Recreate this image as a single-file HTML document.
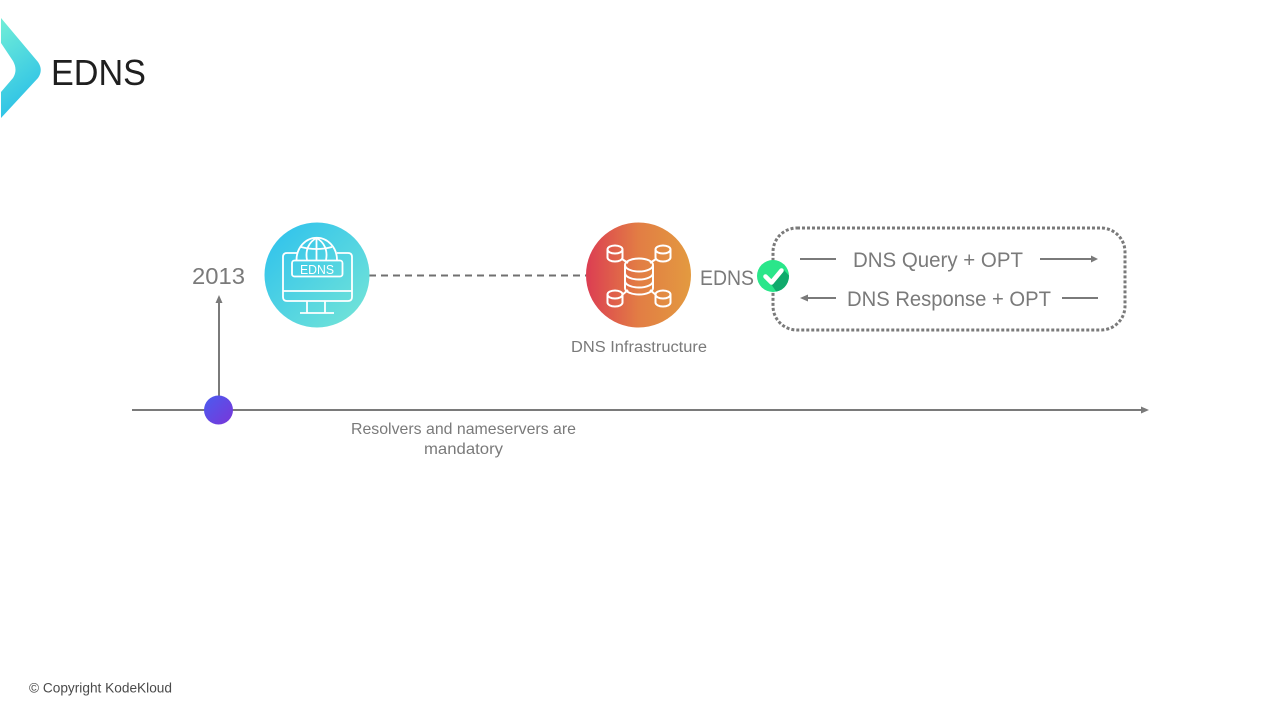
<!DOCTYPE html>
<html><head><meta charset="utf-8"><title>EDNS</title>
<style>html,body{margin:0;padding:0;background:#fff;width:1280px;height:720px;overflow:hidden}svg{display:block}
text{font-family:"Liberation Sans",sans-serif}</style></head>
<body>
<svg width="1280" height="720" viewBox="0 0 1280 720" xmlns="http://www.w3.org/2000/svg">
<defs>
<linearGradient id="lg" x1="0.2" y1="0" x2="0.5" y2="1"><stop offset="0" stop-color="#6eecd8"/><stop offset="1" stop-color="#28bee8"/></linearGradient>
<linearGradient id="blue" x1="0" y1="0" x2="1" y2="1"><stop offset="0" stop-color="#2bc0ee"/><stop offset="1" stop-color="#77e6d6"/></linearGradient>
<linearGradient id="org" x1="0" y1="0" x2="1" y2="0"><stop offset="0" stop-color="#dc3d52"/><stop offset="0.5" stop-color="#e27d44"/><stop offset="1" stop-color="#e39a40"/></linearGradient>
<linearGradient id="pur" x1="0" y1="0" x2="1" y2="1"><stop offset="0" stop-color="#4a5cf0"/><stop offset="1" stop-color="#7a35d8"/></linearGradient>
<clipPath id="cc"><circle cx="773" cy="276" r="16"/></clipPath>
</defs>

<path d="M1 18 L38 62 Q43.500 70 38 78 L1 118 L1 92 L13 78 Q18 70 13 61 L1 43 Z" fill="url(#lg)"/>
<text x="51" y="85" font-size="36.500" fill="#1f1f1f" textLength="95" lengthAdjust="spacingAndGlyphs">EDNS</text>

<!-- timeline -->
<line x1="132" y1="410" x2="1142" y2="410" stroke="#7a7a7a" stroke-width="2"/>
<path d="M1149 410 L1141 406.500 L1141 413.500 Z" fill="#7a7a7a"/>
<line x1="219" y1="400" x2="219" y2="302" stroke="#7a7a7a" stroke-width="2"/>
<path d="M219 295 L215.500 303 L222.500 303 Z" fill="#7a7a7a"/>
<circle cx="218.500" cy="410" r="14.500" fill="url(#pur)"/>
<text x="192" y="284" font-size="23" fill="#7a7a7a" textLength="53" lengthAdjust="spacingAndGlyphs">2013</text>

<!-- dashed -->
<line x1="369" y1="275.500" x2="586" y2="275.500" stroke="#707070" stroke-width="2" stroke-dasharray="7 5"/>

<!-- monitor icon -->
<circle cx="317" cy="275" r="52.500" fill="url(#blue)"/>
<g fill="none" stroke="#fff" stroke-width="1.800">
<path d="M297 253 H287 Q283 253 283 257 V297 Q283 301 287 301 H348 Q352 301 352 297 V257 Q352 253 348 253 H337"/>
<line x1="283" y1="291" x2="352" y2="291"/>
<path d="M307 301 V313 M325 301 V313 M300 313 H334"/>
<path d="M296.500 260 A20 22 0 0 1 337 260"/>
<path d="M307 260 C305 250 309 242 316.500 238 C324 242 328 250 326 260"/>
<line x1="316.500" y1="238" x2="316.500" y2="260"/>
<path d="M301 247 Q316.500 251 332 247"/>
<rect x="292" y="260.500" width="50.500" height="16" rx="2.500"/>
</g>
<text x="317" y="274" font-size="13" fill="#fff" text-anchor="middle" textLength="34" lengthAdjust="spacingAndGlyphs">EDNS</text>

<!-- db icon -->
<circle cx="638.500" cy="275" r="52.500" fill="url(#org)"/>
<g fill="none" stroke="#fff" stroke-width="2">
<ellipse cx="639" cy="265" rx="14" ry="6.500"/>
<path d="M625 265 V288 A14 6.500 0 0 0 653 288 V265"/>
<path d="M625 273 A14 6.500 0 0 0 653 273 M625 281 A14 6.500 0 0 0 653 281"/>
<ellipse cx="615" cy="249.500" rx="7.500" ry="4"/><path d="M607.500 249.500 V257.500 A7.500 4 0 0 0 622.500 257.500 V249.500"/>
<ellipse cx="663" cy="249.500" rx="7.500" ry="4"/><path d="M655.500 249.500 V257.500 A7.500 4 0 0 0 670.500 257.500 V249.500"/>
<ellipse cx="615" cy="294.500" rx="7.500" ry="4"/><path d="M607.500 294.500 V302.500 A7.500 4 0 0 0 622.500 302.500 V294.500"/>
<ellipse cx="663" cy="294.500" rx="7.500" ry="4"/><path d="M655.500 294.500 V302.500 A7.500 4 0 0 0 670.500 302.500 V294.500"/>
<path d="M622 259 L628 263 M656 259 L650 263 M622 295 L628 290 M656 295 L650 290"/>
</g>
<text x="571" y="352" font-size="15.500" fill="#7a7a7a" textLength="136" lengthAdjust="spacingAndGlyphs">DNS Infrastructure</text>
<text x="700" y="285" font-size="21" fill="#7a7a7a" textLength="54" lengthAdjust="spacingAndGlyphs">EDNS</text>

<!-- dotted box -->
<rect x="773" y="228" width="352" height="102" rx="24" fill="none" stroke="#7a7a7a" stroke-width="3" stroke-dasharray="3 2"/>

<!-- check -->
<circle cx="773" cy="276" r="16" fill="#2ae68a"/>
<path d="M771 284 L783 269 L796 283 L782 300 Z" fill="#10aa6c" clip-path="url(#cc)"/>
<path d="M765.500 276.500 L771.500 282.500 L781.500 270.500" fill="none" stroke="#fff" stroke-width="4.500" stroke-linecap="round" stroke-linejoin="round"/>

<!-- messages -->
<line x1="800" y1="259" x2="836" y2="259" stroke="#7a7a7a" stroke-width="2"/>
<text x="853" y="267" font-size="21.500" fill="#7a7a7a" textLength="170" lengthAdjust="spacingAndGlyphs">DNS Query + OPT</text>
<line x1="1040" y1="259" x2="1092" y2="259" stroke="#7a7a7a" stroke-width="2"/>
<path d="M1098 259 L1091 255.500 L1091 262.500 Z" fill="#7a7a7a"/>
<line x1="806" y1="298" x2="836" y2="298" stroke="#7a7a7a" stroke-width="2"/>
<path d="M800 298 L808 294.500 L808 301.500 Z" fill="#7a7a7a"/>
<text x="847" y="306" font-size="21.500" fill="#7a7a7a" textLength="204" lengthAdjust="spacingAndGlyphs">DNS Response + OPT</text>
<line x1="1062" y1="298" x2="1098" y2="298" stroke="#7a7a7a" stroke-width="2"/>

<text x="351" y="434" font-size="16" fill="#7a7a7a" textLength="225" lengthAdjust="spacingAndGlyphs">Resolvers and nameservers are</text>
<text x="424" y="454" font-size="16" fill="#7a7a7a" textLength="79" lengthAdjust="spacingAndGlyphs">mandatory</text>

<text x="29" y="692.500" font-size="13.500" fill="#4a4a4a" textLength="143" lengthAdjust="spacingAndGlyphs">© Copyright KodeKloud</text>
</svg>
</body></html>
